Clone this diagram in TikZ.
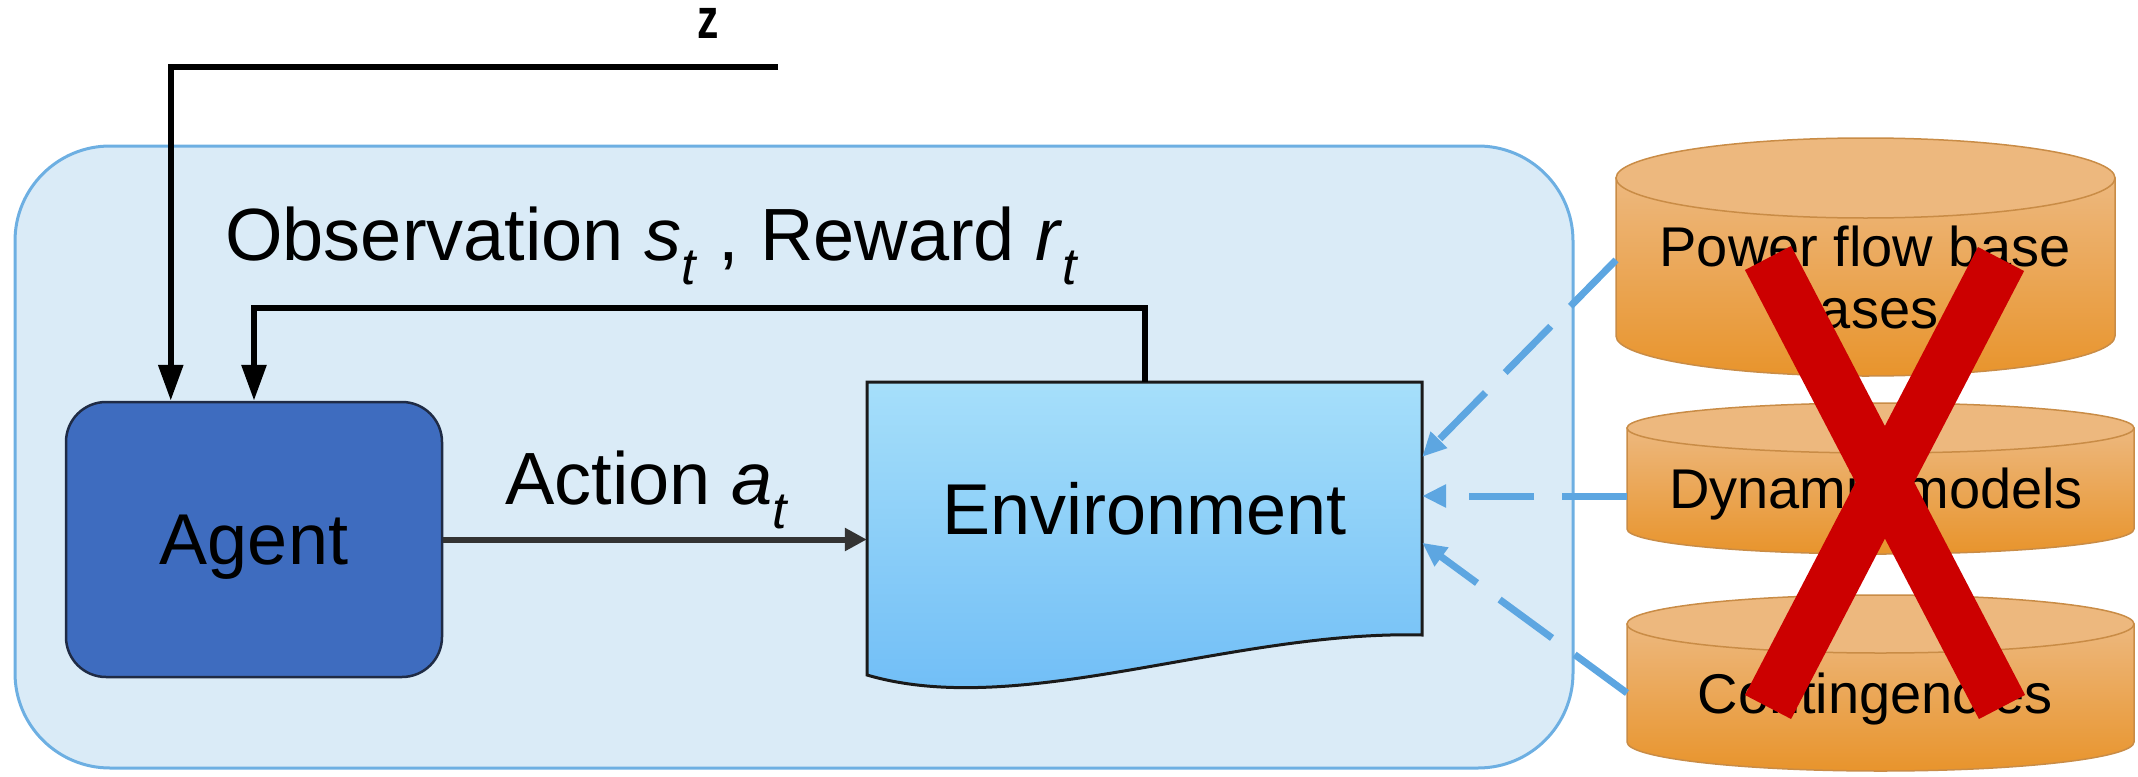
\documentclass[tikz,border=0pt]{standalone}
\usepackage{fontspec}
\setmainfont{Liberation Sans}
\usetikzlibrary{arrows.meta,calc}

\definecolor{panel}{HTML}{DAEBF7}
\definecolor{panelline}{HTML}{6DAFE2}
\definecolor{agentblue}{HTML}{3E6CBF}
\definecolor{agentline}{HTML}{1F2B45}
\definecolor{envtop}{HTML}{A6DFFA}
\definecolor{envbot}{HTML}{6CBBF6}
\definecolor{envline}{HTML}{1A1A1A}
\definecolor{linkblue}{HTML}{5DA6E1}
\definecolor{dbtop}{HTML}{EDB87E}
\definecolor{dbbot}{HTML}{E8942C}
\definecolor{dbline}{HTML}{C98C46}
\definecolor{crossred}{HTML}{CC0000}
\definecolor{actgray}{HTML}{333333}

\newcommand\bigtext{\fontsize{72}{86}\selectfont}
\newcommand\captext{\fontsize{74}{88}\selectfont}
\newcommand\dbtext{\fontsize{56}{62}\selectfont}

% database drum: left x, right x, top centre y, bottom centre y, end radius
\newcommand\drawdb[5]{%
  \pgfmathsetmacro\dbcx{(#1+#2)/2}%
  \pgfmathsetmacro\dbrx{(#2-#1)/2}%
  \path[draw=dbline, line width=1.5pt, top color=dbtop, bottom color=dbbot]
    (#1,#3) -- (#1,#4) arc[start angle=180, end angle=0, x radius=\dbrx, y radius=#5]
    -- (#2,#3) -- cycle;
  \path[draw=dbline, line width=1.5pt, fill=dbtop]
    (\dbcx,#3) ellipse[x radius=\dbrx, y radius=#5];
}

\begin{document}
\begin{tikzpicture}[x=1pt, y=-1pt,
  panelbox/.style={draw=panelline, line width=3pt, fill=panel, rounded corners=95pt, inner sep=0pt},
  agentbox/.style={draw=agentline, line width=2.5pt, fill=agentblue, rounded corners=40pt,
                   minimum width=376pt, minimum height=275pt, inner sep=0pt, text depth=0pt, font=\bigtext},
  envtext/.style={minimum width=555pt, minimum height=253pt, inner sep=0pt, font=\bigtext},
  fb/.style={draw=black, line width=6pt, -{Triangle[length=36pt, width=24pt]}},
  act/.style={draw=actgray, line width=6pt, -{Triangle[length=22pt, width=22pt]}},
  link/.style={draw=linkblue, line width=7pt, dash pattern=on 65pt off 28pt,
               -{Triangle[length=24pt, width=22pt]}},
  cross/.style={draw=crossred, line width=52pt, line cap=butt},
  lbl/.style={inner sep=0pt, font=\captext},
  dblbl/.style={inner sep=0pt, font=\dbtext, align=center}
]
\useasboundingbox (0,0) rectangle (2138,776);

% system panel
\node[panelbox, minimum width=1558pt, minimum height=622pt] (sys) at (794,457) {};

% environment sheet with wavy lower edge
\path[draw=envline, line width=3pt, top color=envtop, bottom color=envbot]
  (867,382) -- (1422,382) -- (1422,635)
  .. controls (1230,630) and (1020,720) .. (867,675) -- cycle;
\node[envtext] (env) at (1144.5,508.5) {Environment};

% agent
\node[agentbox] (agent) at (254,539.5) {Agent};

% labels
\node[lbl, anchor=base west] (obs) at (225,260)
  {Observation \textit{s}\textsubscript{\textit{t}} , Reward \textit{r}\textsubscript{\textit{t}}};
\node[lbl, anchor=base west] (actlbl) at (505,504) {Action \textit{a}\textsubscript{\textit{t}}};
\node[inner sep=0pt, anchor=base] (zlbl) at (708,39)
  {\scalebox{0.75}[1]{\fontsize{57}{62}\selectfont\bfseries z}};

% loop connectors
\draw[act] (agent.east) -- (agent.east -| env.west);
\draw[fb] (env.north) -- ++(0,-74) -| (agent.north);
\coordinate (zsrc) at (778,67);
\draw[fb] (zsrc) -| ($(agent.north west)+(106,0)$);

% data sources
\drawdb{1616}{2115}{178}{336}{40}
\drawdb{1627}{2134}{428}{529}{25}
\drawdb{1627}{2134}{624}{742}{29}
\node[dblbl, anchor=base] (pf) at (1865,328) {Power flow base\\cases};
\node[dblbl, anchor=base] (dm) at (1876,508) {Dynamic models};
\node[dblbl, anchor=base] (ct) at (1875,713) {Contingencies};

\coordinate (c1) at (1616,260);
\coordinate (c2) at (1627,496);
\coordinate (c3) at (1627,693);
\draw[link] (c1) -- ($(env.north east)+(0,75)$);
\draw[link] (c2) -- (c2 -| env.east);
\draw[link] (c3) -- ($(env.north east)+(0,161)$);

% strike-through
\draw[cross] (1768,258) -- (2002,707);
\draw[cross] (2001,259) -- (1768,707);
\end{tikzpicture}
\end{document}
